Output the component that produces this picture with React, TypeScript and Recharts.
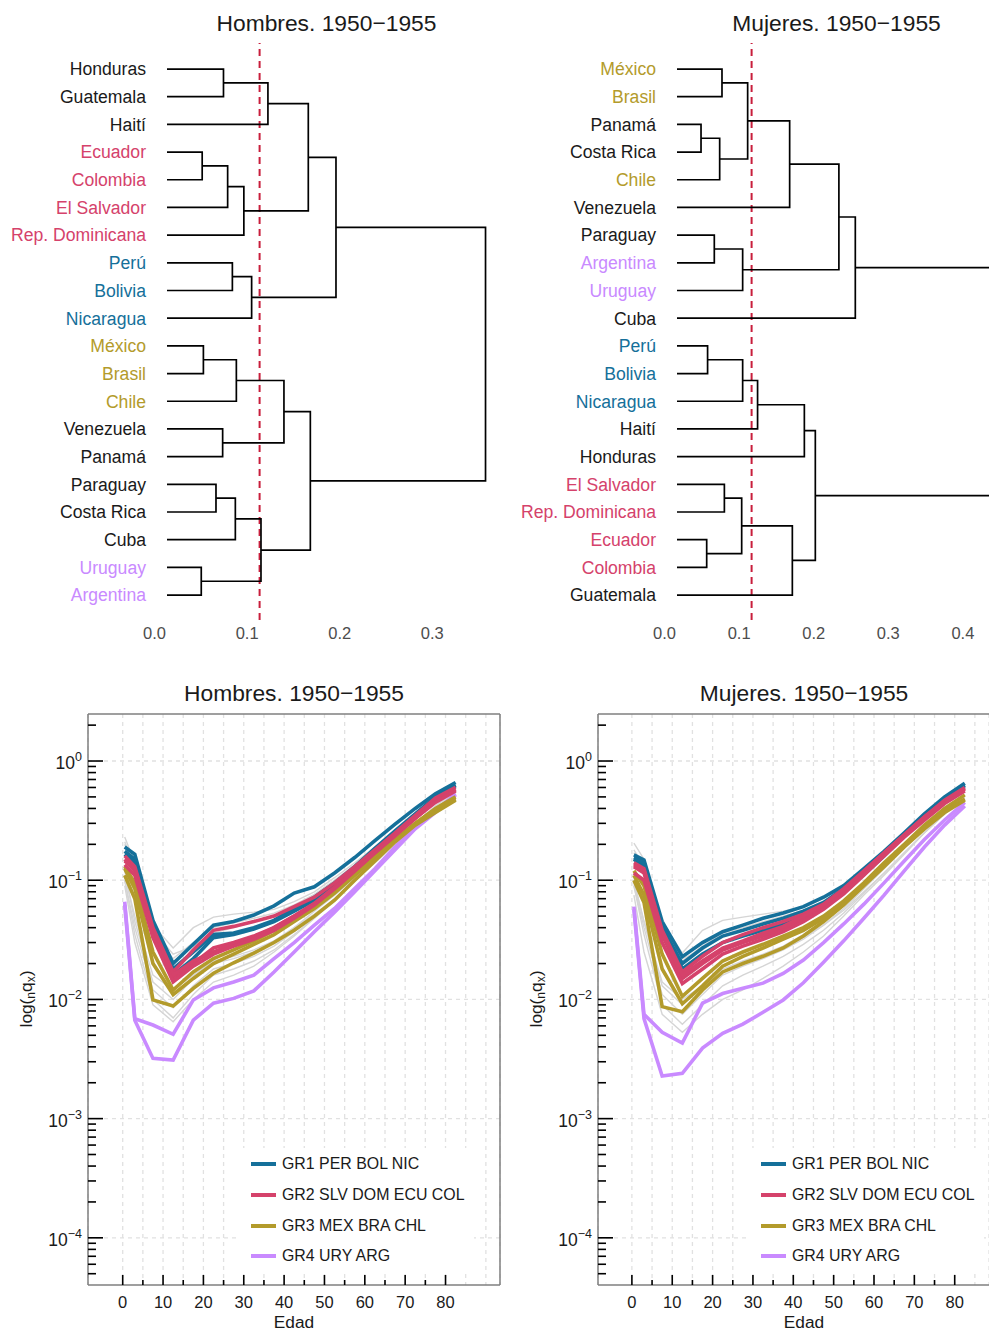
import React from 'react';
import {
  ScatterChart, Scatter, LineChart, Line, XAxis, YAxis,
  ReferenceLine, CartesianGrid, Legend,
} from 'recharts';

const FONT = '"Liberation Sans", Arial, Helvetica, sans-serif';
const textDark = '#1a1a1a';
const greyLine = '#d5d5d5';
const boxGrey = '#7f7f7f';
const gridGrey = '#e1e1e1';

// ---------- groups ----------
const groupLabels = ['GR1 PER BOL NIC', 'GR2 SLV DOM ECU COL', 'GR3 MEX BRA CHL', 'GR4 URY ARG'];
const groupColors = ['#15709A', '#D5426B', '#B39B2B', '#C98AFF'];
const groupMembers = [['PER', 'BOL', 'NIC'], ['SLV', 'DOM', 'ECU', 'COL'], ['MEX', 'BRA', 'CHL'], ['URY', 'ARG']];

// ---------- countries ----------
const countryCodes = ['HND', 'GTM', 'HTI', 'VEN', 'PAN', 'PRY', 'CRI', 'CUB', 'URY', 'ARG', 'MEX', 'BRA', 'CHL', 'PER', 'BOL', 'NIC', 'SLV', 'DOM', 'ECU', 'COL'];
const countryNames = ['Honduras', 'Guatemala', 'Haití', 'Venezuela', 'Panamá', 'Paraguay', 'Costa Rica', 'Cuba', 'Uruguay', 'Argentina', 'México', 'Brasil', 'Chile', 'Perú', 'Bolivia', 'Nicaragua', 'El Salvador', 'Rep. Dominicana', 'Ecuador', 'Colombia'];
const drawOrder = ['HND', 'GTM', 'HTI', 'VEN', 'PAN', 'PRY', 'CRI', 'CUB', 'URY', 'ARG', 'MEX', 'BRA', 'CHL', 'PER', 'BOL', 'NIC', 'SLV', 'DOM', 'ECU', 'COL'];

// ---------- dendrograms (R-style merge: negative = leaf, positive = earlier merge) ----------
const hombresLeaves = ['Honduras', 'Guatemala', 'Haití', 'Ecuador', 'Colombia', 'El Salvador', 'Rep. Dominicana', 'Perú', 'Bolivia', 'Nicaragua', 'México', 'Brasil', 'Chile', 'Venezuela', 'Panamá', 'Paraguay', 'Costa Rica', 'Cuba', 'Uruguay', 'Argentina'];
const hombresMergeA = [-1, 1, -4, 3, 4, 2, -8, 7, 6, -11, 10, -14, 11, -16, 14, -19, 15, 13, 9];
const hombresMergeB = [-2, -3, -5, -6, -7, 5, -9, -10, 8, -12, -13, -15, 12, -17, -18, -20, 16, 17, 18];
const hombresHeights = [0.061, 0.109, 0.038, 0.0655, 0.083, 0.1526, 0.0706, 0.0914, 0.1825, 0.0393, 0.0749, 0.0601, 0.1263, 0.0529, 0.0738, 0.037, 0.1015, 0.1548, 0.344];

const mujeresLeaves = ['México', 'Brasil', 'Panamá', 'Costa Rica', 'Chile', 'Venezuela', 'Paraguay', 'Argentina', 'Uruguay', 'Cuba', 'Perú', 'Bolivia', 'Nicaragua', 'Haití', 'Honduras', 'El Salvador', 'Rep. Dominicana', 'Ecuador', 'Colombia', 'Guatemala'];
const mujeresMergeA = [-1, -3, 2, 1, 4, -7, 6, 5, 8, -11, 10, 11, 12, -16, -18, 14, 16, 13, 9];
const mujeresMergeB = [-2, -4, -5, 3, -6, -8, -9, 7, -10, -12, -13, -14, -15, -17, -19, 15, -20, 17, 18];
const mujeresHeights = [0.0603, 0.0322, 0.0572, 0.0947, 0.151, 0.05, 0.088, 0.217, 0.239, 0.041, 0.088, 0.108, 0.1707, 0.0635, 0.0398, 0.0867, 0.1546, 0.1854, 0.47];

const cutHeight = 0.1;
const hombresHeightTicks = [0, 0.1, 0.2, 0.3];
const mujeresHeightTicks = [0, 0.1, 0.2, 0.3, 0.4];
const leafTicks = [0, 1, 2, 3, 4, 5, 6, 7, 8, 9, 10, 11, 12, 13, 14, 15, 16, 17, 18, 19];

// ---------- life-table probabilities nqx ----------
const ages = [0.5, 3, 7.5, 12.5, 17.5, 22.5, 27.5, 32.5, 37.5, 42.5, 47.5, 52.5, 57.5, 62.5, 67.5, 72.5, 77.5, 82.5];

// Hombres
const hHND = [0.20, 0.12, 0.035, 0.022, 0.030, 0.040, 0.044, 0.048, 0.053, 0.062, 0.076, 0.100, 0.135, 0.185, 0.250, 0.340, 0.460, 0.600];
const hGTM = [0.23, 0.14, 0.042, 0.027, 0.040, 0.049, 0.052, 0.054, 0.057, 0.066, 0.080, 0.105, 0.140, 0.190, 0.260, 0.350, 0.480, 0.620];
const hHTI = [0.21, 0.13, 0.038, 0.024, 0.028, 0.036, 0.040, 0.045, 0.050, 0.060, 0.075, 0.100, 0.130, 0.180, 0.250, 0.340, 0.470, 0.600];
const hVEN = [0.12, 0.045, 0.014, 0.010, 0.015, 0.020, 0.022, 0.025, 0.030, 0.040, 0.055, 0.075, 0.105, 0.150, 0.210, 0.300, 0.420, 0.560];
const hPAN = [0.10, 0.040, 0.012, 0.0085, 0.013, 0.018, 0.020, 0.023, 0.028, 0.037, 0.050, 0.070, 0.100, 0.145, 0.200, 0.290, 0.400, 0.550];
const hPRY = [0.11, 0.050, 0.016, 0.012, 0.016, 0.021, 0.023, 0.026, 0.031, 0.040, 0.052, 0.070, 0.100, 0.140, 0.200, 0.280, 0.390, 0.520];
const hCRI = [0.10, 0.035, 0.010, 0.007, 0.011, 0.016, 0.018, 0.021, 0.026, 0.035, 0.048, 0.068, 0.100, 0.145, 0.210, 0.300, 0.420, 0.560];
const hCUB = [0.09, 0.030, 0.009, 0.0065, 0.010, 0.014, 0.016, 0.019, 0.025, 0.034, 0.048, 0.068, 0.098, 0.140, 0.200, 0.290, 0.400, 0.540];
const hURY = [0.062, 0.0067, 0.0032, 0.0031, 0.0067, 0.0093, 0.0102, 0.0118, 0.017, 0.025, 0.037, 0.054, 0.080, 0.120, 0.180, 0.270, 0.370, 0.520];
const hARG = [0.066, 0.0069, 0.0061, 0.0051, 0.0099, 0.0125, 0.014, 0.016, 0.022, 0.030, 0.042, 0.058, 0.085, 0.125, 0.190, 0.280, 0.380, 0.530];
const hMEX = [0.130, 0.095, 0.025, 0.012, 0.017, 0.022, 0.026, 0.031, 0.038, 0.048, 0.062, 0.082, 0.115, 0.160, 0.220, 0.300, 0.400, 0.500];
const hBRA = [0.125, 0.085, 0.020, 0.011, 0.015, 0.020, 0.024, 0.029, 0.035, 0.045, 0.058, 0.078, 0.110, 0.155, 0.215, 0.300, 0.390, 0.480];
const hCHL = [0.110, 0.070, 0.0099, 0.0088, 0.0124, 0.0166, 0.0203, 0.0245, 0.030, 0.038, 0.050, 0.068, 0.100, 0.145, 0.210, 0.290, 0.370, 0.470];
const hPER = [0.175, 0.150, 0.042, 0.018, 0.025, 0.035, 0.036, 0.040, 0.046, 0.058, 0.072, 0.095, 0.130, 0.185, 0.260, 0.360, 0.500, 0.630];
const hBOL = [0.190, 0.165, 0.046, 0.020, 0.029, 0.042, 0.045, 0.051, 0.061, 0.078, 0.088, 0.115, 0.155, 0.215, 0.295, 0.400, 0.530, 0.660];
const hNIC = [0.165, 0.140, 0.040, 0.016, 0.022, 0.033, 0.035, 0.039, 0.045, 0.055, 0.068, 0.090, 0.125, 0.180, 0.250, 0.350, 0.490, 0.620];
const hSLV = [0.160, 0.130, 0.040, 0.017, 0.026, 0.038, 0.041, 0.045, 0.050, 0.060, 0.072, 0.095, 0.130, 0.180, 0.250, 0.350, 0.490, 0.600];
const hDOM = [0.150, 0.120, 0.036, 0.015, 0.020, 0.027, 0.030, 0.034, 0.040, 0.050, 0.063, 0.085, 0.120, 0.170, 0.240, 0.340, 0.470, 0.580];
const hECU = [0.145, 0.125, 0.038, 0.016, 0.021, 0.025, 0.029, 0.033, 0.040, 0.050, 0.064, 0.088, 0.122, 0.170, 0.240, 0.330, 0.460, 0.570];
const hCOL = [0.135, 0.110, 0.033, 0.014, 0.019, 0.024, 0.028, 0.032, 0.038, 0.048, 0.062, 0.085, 0.120, 0.170, 0.235, 0.330, 0.450, 0.560];

// Mujeres
const mHND = [0.17, 0.12, 0.036, 0.021, 0.028, 0.036, 0.040, 0.045, 0.050, 0.056, 0.066, 0.086, 0.118, 0.165, 0.235, 0.330, 0.460, 0.600];
const mGTM = [0.205, 0.15, 0.045, 0.0245, 0.038, 0.046, 0.049, 0.052, 0.055, 0.060, 0.070, 0.090, 0.120, 0.170, 0.240, 0.340, 0.470, 0.620];
const mHTI = [0.18, 0.13, 0.040, 0.022, 0.026, 0.034, 0.038, 0.043, 0.048, 0.055, 0.065, 0.085, 0.115, 0.160, 0.230, 0.330, 0.460, 0.600];
const mVEN = [0.10, 0.045, 0.013, 0.009, 0.013, 0.018, 0.021, 0.024, 0.028, 0.035, 0.046, 0.063, 0.090, 0.130, 0.190, 0.280, 0.390, 0.520];
const mPAN = [0.09, 0.040, 0.011, 0.0075, 0.011, 0.016, 0.019, 0.022, 0.026, 0.032, 0.042, 0.058, 0.085, 0.125, 0.185, 0.270, 0.380, 0.500];
const mPRY = [0.095, 0.045, 0.014, 0.010, 0.013, 0.017, 0.020, 0.023, 0.027, 0.033, 0.042, 0.056, 0.080, 0.115, 0.170, 0.250, 0.360, 0.480];
const mCRI = [0.09, 0.035, 0.009, 0.0062, 0.009, 0.013, 0.016, 0.019, 0.023, 0.029, 0.038, 0.053, 0.078, 0.115, 0.170, 0.250, 0.360, 0.490];
const mCUB = [0.075, 0.025, 0.0075, 0.0053, 0.0075, 0.010, 0.012, 0.015, 0.019, 0.025, 0.034, 0.050, 0.075, 0.110, 0.165, 0.250, 0.360, 0.480];
const mURY = [0.057, 0.0069, 0.00228, 0.0024, 0.0039, 0.0052, 0.0062, 0.0078, 0.0099, 0.0138, 0.0205, 0.031, 0.048, 0.075, 0.120, 0.190, 0.290, 0.420];
const mARG = [0.060, 0.0075, 0.0053, 0.0043, 0.0093, 0.0112, 0.0124, 0.0137, 0.0165, 0.0214, 0.030, 0.043, 0.063, 0.095, 0.145, 0.220, 0.320, 0.450];
const mMEX = [0.120, 0.090, 0.024, 0.0106, 0.015, 0.021, 0.025, 0.029, 0.034, 0.040, 0.050, 0.067, 0.095, 0.140, 0.200, 0.290, 0.400, 0.520];
const mBRA = [0.110, 0.075, 0.018, 0.0092, 0.013, 0.019, 0.023, 0.027, 0.032, 0.038, 0.048, 0.065, 0.092, 0.135, 0.195, 0.280, 0.380, 0.480];
const mCHL = [0.100, 0.065, 0.0087, 0.0079, 0.012, 0.017, 0.020, 0.023, 0.027, 0.034, 0.045, 0.062, 0.090, 0.130, 0.190, 0.270, 0.370, 0.470];
const mPER = [0.150, 0.130, 0.040, 0.020, 0.027, 0.034, 0.038, 0.043, 0.048, 0.055, 0.065, 0.085, 0.115, 0.165, 0.240, 0.350, 0.490, 0.630];
const mBOL = [0.163, 0.148, 0.045, 0.0228, 0.030, 0.037, 0.042, 0.048, 0.053, 0.060, 0.072, 0.090, 0.125, 0.175, 0.250, 0.360, 0.500, 0.650];
const mNIC = [0.155, 0.140, 0.042, 0.018, 0.024, 0.030, 0.034, 0.038, 0.043, 0.050, 0.060, 0.080, 0.112, 0.160, 0.235, 0.340, 0.480, 0.620];
const mSLV = [0.140, 0.125, 0.038, 0.017, 0.023, 0.030, 0.035, 0.040, 0.045, 0.052, 0.063, 0.085, 0.120, 0.170, 0.240, 0.340, 0.470, 0.600];
const mDOM = [0.130, 0.115, 0.035, 0.015, 0.020, 0.026, 0.030, 0.034, 0.039, 0.047, 0.060, 0.080, 0.115, 0.165, 0.235, 0.330, 0.450, 0.580];
const mECU = [0.135, 0.120, 0.036, 0.016, 0.021, 0.027, 0.031, 0.036, 0.041, 0.050, 0.062, 0.083, 0.118, 0.170, 0.240, 0.340, 0.460, 0.590];
const mCOL = [0.115, 0.100, 0.030, 0.0136, 0.018, 0.024, 0.028, 0.032, 0.037, 0.045, 0.057, 0.077, 0.110, 0.160, 0.230, 0.320, 0.440, 0.560];

const hombresSeries = [hHND, hGTM, hHTI, hVEN, hPAN, hPRY, hCRI, hCUB, hURY, hARG, hMEX, hBRA, hCHL, hPER, hBOL, hNIC, hSLV, hDOM, hECU, hCOL];
const mujeresSeries = [mHND, mGTM, mHTI, mVEN, mPAN, mPRY, mCRI, mCUB, mURY, mARG, mMEX, mBRA, mCHL, mPER, mBOL, mNIC, mSLV, mDOM, mECU, mCOL];

// axis ticks
const ageTicks = [0, 5, 10, 15, 20, 25, 30, 35, 40, 45, 50, 55, 60, 65, 70, 75, 80, 85, 90];
const decadeTicks = [1e-4, 1e-3, 1e-2, 1e-1, 1];
const minorMultipliers = [2, 3, 4, 5, 6, 7, 8, 9];
const yMin = 4.02e-5;
const yMax = 2.48;
const logTicks: number[] = [];
[1e-5, 1e-4, 1e-3, 1e-2, 1e-1, 1].forEach((d) => {
  [1, ...minorMultipliers].forEach((m) => {
    const v = m * d;
    if (v >= 4.9e-5 && v <= 2.01) logTicks.push(v);
  });
});

// ---------- helpers ----------
function groupOfCode(code: string): number {
  return groupMembers.findIndex((g) => g.includes(code));
}
function colorOfName(name: string): string {
  const code = countryCodes[countryNames.indexOf(name)];
  const g = groupOfCode(code);
  return g >= 0 ? groupColors[g] : textDark;
}
function buildTable(series: number[][]) {
  return ages.map((age, i) => {
    const row: Record<string, number> = { age };
    countryCodes.forEach((c, j) => { row[c] = series[j][i]; });
    return row;
  });
}
function buildDendro(ma: number[], mb: number[], heights: number[]) {
  const nodes: { h: number; y: number }[] = [];
  const pos = (r: number) => (r < 0 ? { h: 0, y: -r - 1 } : nodes[r - 1]);
  return heights.map((h, i) => {
    const A = pos(ma[i]);
    const B = pos(mb[i]);
    nodes.push({ h, y: (A.y + B.y) / 2 });
    return [
      { x: A.h, y: A.y },
      { x: h, y: A.y },
      { x: h, y: B.y },
      { x: B.h, y: B.y },
    ];
  });
}

const NoPoint = () => <g />;

const HeightTick = (p: any) => (
  <text x={p.x - 12.5} y={p.y + 19} textAnchor="middle" fontSize={16.5} fill="#4d4d4d" fontFamily={FONT}>
    {Number(p.payload.value).toFixed(1)}
  </text>
);

function makeLeafTick(leaves: string[]) {
  return (p: any) => {
    const name = leaves[p.payload.value];
    return (
      <text x={p.x - 21} y={p.y + 6.3} textAnchor="end" fontSize={17.6} fill={colorOfName(name)} fontFamily={FONT}>
        {name}
      </text>
    );
  };
}

function Dendrogram(props: {
  left: number; width: number; marginRight: number; xMax: number;
  leaves: string[]; ma: number[]; mb: number[]; heights: number[]; ticks: number[];
}) {
  const segs = buildDendro(props.ma, props.mb, props.heights);
  return (
    <div style={{ position: 'absolute', left: props.left, top: 0 }}>
      <ScatterChart width={props.width} height={660} margin={{ top: 43, right: props.marginRight, bottom: 0, left: 0 }}>
        <XAxis type="number" dataKey="x" domain={[0, props.xMax]} allowDataOverflow ticks={props.ticks} interval={0}
          tick={HeightTick} tickLine={false} axisLine={false} tickSize={0} tickMargin={0} height={40} />
        <YAxis type="number" dataKey="y" domain={[-0.94, 19.9]} reversed allowDataOverflow ticks={leafTicks} interval={0}
          tick={makeLeafTick(props.leaves)} tickLine={false} axisLine={false} tickSize={0} tickMargin={0} width={167} />
        {segs.map((s, i) => (
          <Scatter key={i} data={s} line={{ stroke: '#000', strokeWidth: 1.7 }} shape={NoPoint} isAnimationActive={false} />
        ))}
        <ReferenceLine x={cutHeight} stroke="#C81E3C" strokeWidth={2} strokeDasharray="7 5" />
      </ScatterChart>
    </div>
  );
}

const LogTick = (p: any) => {
  const v = p.payload.value as number;
  const lg = Math.log10(v);
  const e = Math.round(lg);
  const major = Math.abs(lg - e) < 1e-6;
  return (
    <g>
      <line x1={p.x} x2={p.x + (major ? 15 : 8)} y1={p.y} y2={p.y} stroke="#000" strokeWidth={1.6} />
      {major && (
        <text x={p.x - 6} y={p.y + 8} textAnchor="end" fontSize={17.5} fill={textDark} fontFamily={FONT}>
          10<tspan dy={-8} fontSize={12.5}>{e === 0 ? '0' : '\u2212' + Math.abs(e)}</tspan>
        </text>
      )}
    </g>
  );
};

const AgeTick = (p: any) => {
  const v = p.payload.value as number;
  if (v > 80) return <g />;
  const major = v % 10 === 0;
  return (
    <g>
      <line x1={p.x} x2={p.x} y1={p.y} y2={p.y - (major ? 10 : 5)} stroke="#000" strokeWidth={1.6} />
      {major && (
        <text x={p.x} y={p.y + 23} textAnchor="middle" fontSize={16.5} fill={textDark} fontFamily={FONT}>{v}</text>
      )}
    </g>
  );
};

const GroupLegend = () => (
  <div style={{ width: 234, height: 124, background: '#fff', position: 'relative', fontFamily: FONT }}>
    {groupLabels.map((lab, i) => {
      const yc = 16.3 + i * 30.7;
      return (
        <React.Fragment key={lab}>
          <div style={{ position: 'absolute', left: 11, top: yc - 2, width: 25, height: 4, background: groupColors[i] }} />
          <div style={{ position: 'absolute', left: 42, top: yc - 10, height: 20, lineHeight: '20px', fontSize: 15.9, color: textDark, whiteSpace: 'nowrap' }}>
            {lab}
          </div>
        </React.Fragment>
      );
    })}
  </div>
);

function MortalityPanel(props: {
  left: number; width: number; marginRight: number; xDomain: [number, number];
  series: number[][]; rightBorder: boolean;
}) {
  const table = buildTable(props.series);
  return (
    <div style={{ position: 'absolute', left: props.left, top: 660 }}>
      <LineChart width={props.width} height={671} data={table} margin={{ top: 54, right: props.marginRight, bottom: 0, left: 0 }}>
        <CartesianGrid horizontal={false} stroke={gridGrey} strokeDasharray="4 4" strokeWidth={1.3} />
        {decadeTicks.map((d) => (
          <ReferenceLine key={d} y={d} stroke={gridGrey} strokeDasharray="4 4" strokeWidth={1.3} />
        ))}
        <XAxis type="number" dataKey="age" domain={props.xDomain} allowDataOverflow ticks={ageTicks} interval={0}
          tick={AgeTick} tickLine={false} axisLine={{ stroke: boxGrey, strokeWidth: 1.5 }} tickSize={0} tickMargin={0} height={46} />
        <YAxis type="number" scale="log" domain={[yMin, yMax]} allowDataOverflow ticks={logTicks} interval={0}
          tick={LogTick} tickLine={false} axisLine={{ stroke: boxGrey, strokeWidth: 1.5 }} tickSize={0} tickMargin={0} width={88} />
        {drawOrder.map((code) => {
          const g = groupOfCode(code);
          return (
            <Line key={code} dataKey={code} type="linear" stroke={g >= 0 ? groupColors[g] : greyLine}
              strokeWidth={g >= 0 ? 3.6 : 1.4} dot={false} activeDot={false} isAnimationActive={false} />
          );
        })}
        <ReferenceLine y={yMax} stroke={boxGrey} strokeWidth={1.5} ifOverflow="visible" />
        {props.rightBorder && <ReferenceLine x={props.xDomain[1]} stroke={boxGrey} strokeWidth={1.5} ifOverflow="visible" />}
        <Legend layout="vertical" align="center" verticalAlign="middle" content={<GroupLegend />}
          wrapperStyle={{ position: 'absolute', left: 240, top: 488, width: 234, height: 124 }} />
      </LineChart>
    </div>
  );
}

function YLabel({ x, y }: { x: number; y: number }) {
  return (
    <text transform={`translate(${x},${y}) rotate(-90)`} textAnchor="middle" fontSize={17.3} fill={textDark} fontFamily={FONT}>
      log(<tspan baselineShift="-25%" fontSize={12}>n</tspan><tspan>q</tspan><tspan baselineShift="-25%" fontSize={12}>x</tspan><tspan>)</tspan>
    </text>
  );
}

export default function App() {
  return (
    <div style={{ position: 'absolute', left: 0, top: 0, width: 989, height: 1331, background: '#fff', overflow: 'hidden' }}>
      <Dendrogram left={0} width={515} marginRight={5.4} xMax={0.37}
        leaves={hombresLeaves} ma={hombresMergeA} mb={hombresMergeB} heights={hombresHeights} ticks={hombresHeightTicks} />
      <Dendrogram left={510} width={479} marginRight={0} xMax={0.4182}
        leaves={mujeresLeaves} ma={mujeresMergeA} mb={mujeresMergeB} heights={mujeresHeights} ticks={mujeresHeightTicks} />
      <MortalityPanel left={0} width={510} marginRight={10} xDomain={[-8.6, 93.5]} series={hombresSeries} rightBorder />
      <MortalityPanel left={510} width={479} marginRight={0} xDomain={[-8.4, 88.5]} series={mujeresSeries} rightBorder={false} />
      <svg width={989} height={1331} style={{ position: 'absolute', left: 0, top: 0, pointerEvents: 'none' }}>
        <g fontFamily={FONT} fill={textDark} textAnchor="middle">
          <text x={326.5} y={31} fontSize={22.8}>Hombres. 1950{'\u2212'}1955</text>
          <text x={836.5} y={31} fontSize={22.8}>Mujeres. 1950{'\u2212'}1955</text>
          <text x={294} y={701} fontSize={22.8}>Hombres. 1950{'\u2212'}1955</text>
          <text x={804} y={701} fontSize={22.8}>Mujeres. 1950{'\u2212'}1955</text>
          <text x={294} y={1328} fontSize={17.3}>Edad</text>
          <text x={804} y={1328} fontSize={17.3}>Edad</text>
        </g>
        <YLabel x={31.5} y={999} />
        <YLabel x={541.5} y={999} />
      </svg>
    </div>
  );
}
